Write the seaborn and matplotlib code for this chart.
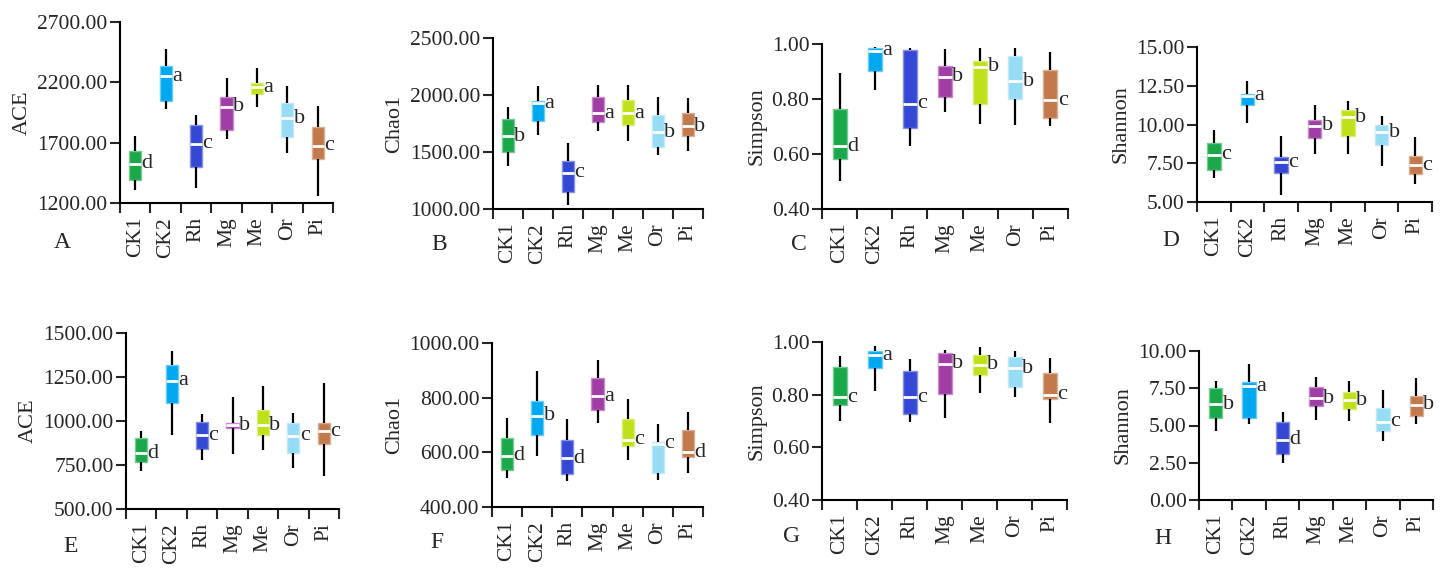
import numpy as np
import pandas as pd
import matplotlib
matplotlib.use('Agg')
import matplotlib.pyplot as plt
import matplotlib.colors as mcolors
import seaborn as sns

groups = ['CK1', 'CK2', 'Rh', 'Mg', 'Me', 'Or', 'Pi']
colors = ['#1aa84a', '#00a8f0', '#3548d4', '#a03ea6', '#bfe11c', '#96dcf5', '#c27a4c']

# each group: [min, q1, median, q3, max]
ace_top = [[1310, 1393, 1525, 1627, 1756], [1979, 2048, 2251, 2334, 2474],
           [1324, 1497, 1690, 1847, 1929], [1728, 1805, 1998, 2078, 2240],
           [1998, 2103, 2158, 2191, 2320], [1618, 1750, 1902, 2031, 2169],
           [1255, 1563, 1673, 1830, 2004]]
chao_top = [[1378, 1504, 1636, 1788, 1894], [1650, 1776, 1929, 1949, 2075],
            [1035, 1152, 1319, 1419, 1577], [1680, 1759, 1841, 1984, 2090],
            [1598, 1735, 1841, 1958, 2084], [1475, 1548, 1674, 1823, 1982],
            [1513, 1636, 1724, 1841, 1973]]
simpson_top = [[0.502, 0.581, 0.629, 0.762, 0.893], [0.833, 0.903, 0.976, 0.987, 0.990],
               [0.630, 0.696, 0.782, 0.978, 0.984], [0.754, 0.806, 0.881, 0.920, 0.981],
               [0.709, 0.783, 0.918, 0.938, 0.984], [0.705, 0.799, 0.864, 0.958, 0.987],
               [0.703, 0.730, 0.796, 0.904, 0.972]]
shannon_top = [[6.55, 7.04, 8.05, 8.81, 9.67], [10.10, 11.26, 11.86, 11.97, 12.78],
               [5.43, 6.87, 7.58, 7.88, 9.28], [8.12, 9.13, 9.92, 10.27, 11.28],
               [8.12, 9.24, 10.46, 10.96, 11.54], [7.30, 8.66, 9.49, 9.95, 10.53],
               [6.18, 6.81, 7.37, 7.95, 9.19]]
ace_bot = [[717, 768, 816, 901, 944], [923, 1105, 1228, 1318, 1396],
           [778, 842, 918, 995, 1039], [812, 963, 976, 988, 1137],
           [835, 920, 976, 1061, 1199], [731, 816, 916, 986, 1046],
           [687, 867, 942, 986, 1216]]
chao_bot = [[506, 534, 588, 651, 726], [585, 663, 734, 789, 896],
            [496, 521, 579, 646, 722], [707, 754, 805, 872, 939],
            [573, 622, 646, 722, 795], [498, 524, 632, 637, 702],
            [524, 583, 600, 682, 748]]
simpson_bot = [[0.700, 0.760, 0.791, 0.905, 0.945], [0.815, 0.900, 0.949, 0.967, 0.983],
               [0.698, 0.726, 0.791, 0.888, 0.935], [0.711, 0.803, 0.917, 0.958, 0.971],
               [0.806, 0.875, 0.914, 0.952, 0.981], [0.793, 0.829, 0.901, 0.943, 0.964],
               [0.694, 0.785, 0.799, 0.882, 0.939]]
shannon_bot = [[4.65, 5.48, 6.44, 7.49, 8.01], [5.10, 5.53, 7.65, 7.94, 9.13],
               [2.46, 3.09, 4.03, 5.26, 5.93], [5.37, 6.31, 6.82, 7.56, 8.23],
               [5.30, 6.11, 6.71, 7.27, 8.01], [3.98, 4.65, 5.26, 6.20, 7.38],
               [5.10, 5.64, 6.38, 6.98, 8.17]]

letters_a = ['d', 'a', 'c', 'b', 'a', 'b', 'c']
letters_b = ['b', 'a', 'c', 'a', 'a', 'b', 'b']
letters_c = ['d', 'a', 'c', 'b', 'b', 'b', 'c']
letters_d = ['c', 'a', 'c', 'b', 'b', 'b', 'c']
letters_e = ['d', 'a', 'c', 'b', 'b', 'c', 'c']
letters_f = ['d', 'b', 'd', 'a', 'c', 'c', 'd']
letters_g = ['c', 'a', 'c', 'b', 'b', 'b', 'c']
letters_h = ['b', 'a', 'd', 'b', 'b', 'c', 'b']

W, H = 1444, 569

sns.set_theme(style='ticks')
plt.rcParams['font.family'] = ['Liberation Serif', 'DejaVu Serif']
plt.rcParams['axes.linewidth'] = 1.5

fig = plt.figure(figsize=(W / 100, H / 100), dpi=100)


def px_axes(left, top, right, bottom):
    return fig.add_axes([left / W, 1 - bottom / H, (right - left) / W, (bottom - top) / H])


def do_panel(box, stats, letters, ylabel, yticks, panel, panel_xy):
    ax = px_axes(*box)
    df = pd.DataFrame([(g, v) for g, s in zip(groups, stats) for v in s],
                      columns=['group', 'value'])
    sns.boxplot(data=df, x='group', y='value', hue='group', order=groups,
                hue_order=groups, palette=colors, saturation=1, legend=False, ax=ax,
                width=0.4, whis=(0, 100), showcaps=False, showfliers=False,
                linecolor='black', linewidth=1.6,
                medianprops=dict(color='white', linewidth=2))
    for p in ax.patches:
        fc = np.array(mcolors.to_rgb(p.get_facecolor()))
        p.set_edgecolor(fc + (1 - fc) * 0.4)
        p.set_linewidth(1.0)
    for i, s in enumerate(stats):
        ax.text(i + 0.21, s[2], letters[i], ha='left', va='center', fontsize=16)
    ax.set_xlim(-0.5, 6.5)
    ax.set_ylim(yticks[0], yticks[-1])
    ax.set_yticks(yticks)
    ax.set_yticklabels([f'{t:.2f}' for t in yticks], fontsize=15.5)
    ax.set_xticks(range(len(groups)))
    ax.set_xticklabels(groups, rotation=90, fontsize=15.5)
    ax.set_xticks(np.arange(-0.5, 7, 1), minor=True)
    ax.tick_params(axis='x', which='major', length=0, pad=10)
    ax.tick_params(axis='x', which='minor', length=7, width=1.5, direction='out')
    ax.tick_params(axis='y', length=7, width=1.5, direction='out', pad=2)
    ax.set_xlabel('')
    ax.set_ylabel(ylabel, fontsize=16, labelpad=4)
    for sp in ['left', 'bottom']:
        ax.spines[sp].set_color('black')
        ax.spines[sp].set_linewidth(1.5)
    sns.despine(ax=ax)
    fig.text(panel_xy[0] / W, 1 - panel_xy[1] / H, panel, ha='center', va='center', fontsize=17)


do_panel((120, 22, 333, 203), ace_top, letters_a, 'ACE', [1200, 1700, 2200, 2700], 'A', (62, 242))
do_panel((493, 38, 703, 209), chao_top, letters_b, 'Chao1', [1000, 1500, 2000, 2500], 'B', (439, 245))
do_panel((822, 44, 1068, 209), simpson_top, letters_c, 'Simpson', [0.4, 0.6, 0.8, 1.0], 'C', (799, 245))
do_panel((1197, 47, 1432, 202), shannon_top, letters_d, 'Shannon', [5, 7.5, 10, 12.5, 15], 'D', (1171, 240))
do_panel((126, 333, 339, 509), ace_bot, letters_e, 'ACE', [500, 750, 1000, 1250, 1500], 'E', (71, 546))
do_panel((492, 343, 703, 507), chao_bot, letters_f, 'Chao1', [400, 600, 800, 1000], 'F', (437, 542))
do_panel((822, 342, 1067, 500), simpson_bot, letters_g, 'Simpson', [0.4, 0.6, 0.8, 1.0], 'G', (792, 537))
do_panel((1199, 351, 1433, 500), shannon_bot, letters_h, 'Shannon', [0, 2.5, 5, 7.5, 10], 'H', (1163, 538))

plt.savefig('out.png', dpi=100)
